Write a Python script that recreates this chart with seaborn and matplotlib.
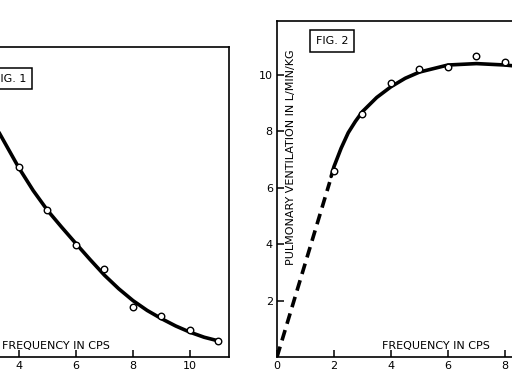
import pandas as pd
import matplotlib
matplotlib.use("Agg")
import matplotlib.pyplot as plt
import seaborn as sns

# Fig. 1 - measured points (right-hand part of the panel)
fig1_freq = [4, 5, 6, 7, 8, 9, 10, 11]
fig1_value = [6.75, 5.2, 3.97, 3.12, 1.77, 1.45, 0.96, 0.57]
# Fig. 1 - hand-drawn curve
fig1_curve_freq = [3.0, 3.5, 4, 4.5, 5, 5.5, 6, 6.5, 7, 7.5, 8, 8.5, 9, 9.5, 10, 10.5, 11]
fig1_curve_value = [8.5, 7.6, 6.7, 5.9, 5.2, 4.6, 4.02, 3.45, 2.9, 2.42, 2.0, 1.65,
                    1.36, 1.1, 0.88, 0.7, 0.57]

# Fig. 2 - pulmonary ventilation (L/min/kg) vs frequency
fig2_freq = [2, 3, 4, 5, 6, 7, 8]
fig2_ventilation = [6.6, 8.62, 9.72, 10.2, 10.28, 10.67, 10.46]
fig2_curve_freq = [1.9, 2, 2.25, 2.5, 2.75, 3, 3.5, 4, 4.5, 5, 6, 7, 8, 9]
fig2_curve_value = [6.4, 6.75, 7.4, 7.95, 8.35, 8.7, 9.2, 9.58, 9.88, 10.1, 10.35, 10.4,
                    10.35, 10.25]
fig2_dash_freq = [0, 1.85]
fig2_dash_value = [0, 6.2]

sns.set_style("white")
plt.rcParams["font.family"] = ["DejaVu Sans"]
plt.rcParams["text.color"] = "black"

fig = plt.figure(figsize=(5.12, 3.84), dpi=100)
W, H = 512, 384
ax1 = fig.add_axes([-95 / W, 27 / H, 324 / W, 310.5 / H])
ax2 = fig.add_axes([277 / W, 27 / H, 324 / W, 336 / H])

pts = dict(marker="o", s=22, color="white", edgecolor="black", linewidth=1.0, zorder=3)

# left panel
sns.lineplot(x=fig1_curve_freq, y=fig1_curve_value, ax=ax1, color="black", lw=2.6, sort=False)
sns.scatterplot(x=fig1_freq, y=fig1_value, ax=ax1, **pts)
ax1.set_xlim(0, 11.37)
ax1.set_ylim(0, 11.01)
ax1.set_xticks([4, 6, 8, 10])
ax1.set_yticks([])
ax1.text(7.2, 0.22, "FREQUENCY IN CPS", ha="right", va="bottom", fontsize=8)
ax1.text(4.25, 9.86, "FIG. 1", ha="right", va="center", fontsize=8,
         bbox=dict(boxstyle="square,pad=0.5", fc="white", ec="black", lw=1.1))

# right panel
sns.lineplot(x=fig2_dash_freq, y=fig2_dash_value, ax=ax2, color="black", lw=2.6,
             linestyle=(0, (3, 1.8)))
sns.lineplot(x=fig2_curve_freq, y=fig2_curve_value, ax=ax2, color="black", lw=2.6, sort=False)
sns.scatterplot(x=fig2_freq, y=fig2_ventilation, ax=ax2, **pts)
ax2.set_xlim(0, 11.37)
ax2.set_ylim(0, 11.91)
ax2.set_xticks([0, 2, 4, 6, 8])
ax2.set_yticks([2, 4, 6, 8, 10])
ax2.text(7.47, 0.22, "FREQUENCY IN CPS", ha="right", va="bottom", fontsize=8)
ax2.text(0.5, 7.1, "PULMONARY VENTILATION IN L/MIN/KG", rotation=90,
         ha="center", va="center", fontsize=8)
ax2.text(1.93, 11.2, "FIG. 2", ha="center", va="center", fontsize=8,
         bbox=dict(boxstyle="square,pad=0.5", fc="white", ec="black", lw=1.1))

for ax in (ax1, ax2):
    ax.set_xlabel("")
    ax.set_ylabel("")
    for s in ax.spines.values():
        s.set_linewidth(1.2)
        s.set_color("black")
    ax.tick_params(direction="in", length=5, width=1.1, colors="black",
                   labelcolor="black", labelsize=8, pad=3, left=True, bottom=True)

fig.savefig("out.png", dpi=100, facecolor="white")
